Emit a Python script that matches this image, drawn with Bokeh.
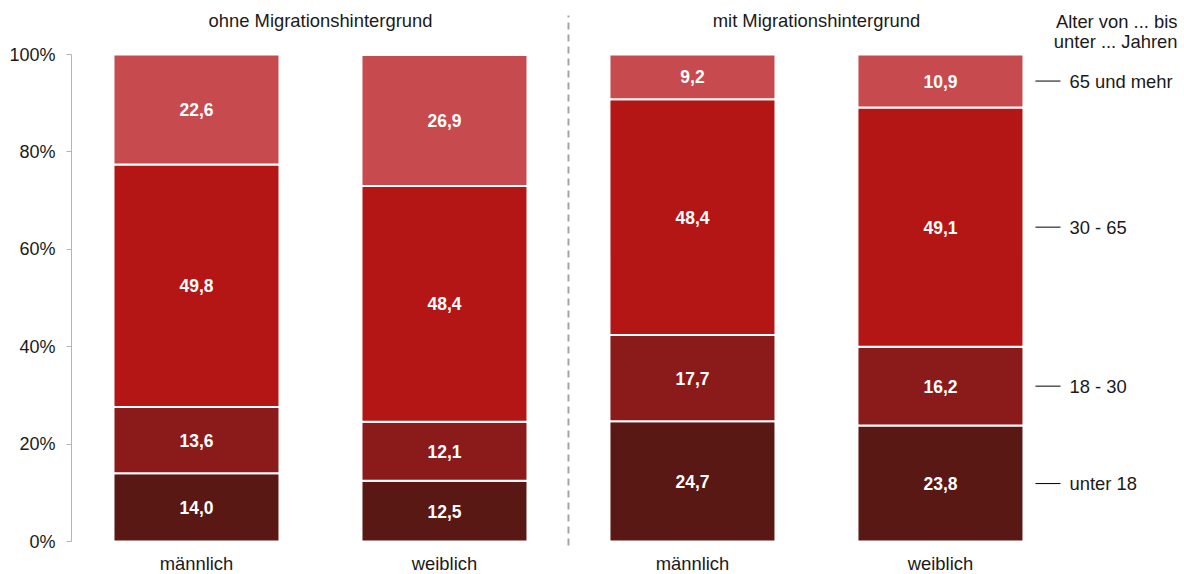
from bokeh.plotting import figure
from bokeh.models import ColumnDataSource, FixedTicker, Range1d
from bokeh.core.properties import value
from bokeh.embed import file_html
from bokeh.resources import INLINE

# ---------------- data ----------------
groups = ["ohne Migrationshintergrund", "mit Migrationshintergrund"]
sexes = ["männlich", "weiblich"]
age_groups = ["unter 18", "18 - 30", "30 - 65", "65 und mehr"]
ohne_maennlich = [14.0, 13.6, 49.8, 22.6]
ohne_weiblich = [12.5, 12.1, 48.4, 26.9]
mit_maennlich = [24.7, 17.7, 48.4, 9.2]
mit_weiblich = [23.8, 16.2, 49.1, 10.9]
y_ticks = [0, 20, 40, 60, 80, 100]
legend_title = ["Alter von ... bis", "unter ... Jahren"]

# ---------------- style ----------------
colors = ["#5a1814", "#8b1b1a", "#b41616", "#c64a4e"]
FONT = "Liberation Sans"
TXT = "18.4px"
W, H = 1184, 574

series = [ohne_maennlich, ohne_weiblich, mit_maennlich, mit_weiblich]
bar_labels = [s for _ in groups for s in sexes]

p = figure(width=W, height=H, output_backend="svg", toolbar_location=None,
           x_range=Range1d(-0.504, 3.984), y_range=Range1d(-6.776, 111.09),
           x_axis_location=None, y_axis_location="left",
           min_border_left=71, min_border_right=0, min_border_top=0, min_border_bottom=0)
p.outline_line_color = None
p.xgrid.visible = False
p.ygrid.visible = False
p.background_fill_color = "white"
p.border_fill_color = "white"

# bars
xs, bottoms, tops, fills, mids, texts = [], [], [], [], [], []
for i, vals in enumerate(series):
    cum = 0.0
    for j, v in enumerate(vals):
        xs.append(i)
        bottoms.append(cum)
        tops.append(cum + v)
        fills.append(colors[j])
        mids.append(cum + v / 2)
        texts.append(f"{v:.1f}".replace(".", ","))
        cum += v
src = ColumnDataSource(dict(x=xs, bottom=bottoms, top=tops, fill=fills, mid=mids, text=texts))
p.vbar(x="x", bottom="bottom", top="top", width=166 / 248, fill_color="fill",
       line_color="white", line_width=2, source=src)
p.text(x="x", y="mid", text="text", source=src, text_color="white",
       text_font=value(FONT), text_font_style="bold", text_font_size="17.5px",
       text_align="center", text_baseline="middle")

# separator
p.segment(x0=[1.5], y0=[-0.82], x1=[1.5], y1=[108.0], line_color="#a6a6a6",
          line_width=2, line_dash="7 5")

# group headers
hx = [0.5, 2.5]
p.text(x=hx, y=[106.9] * 2, text=groups, text_font=value(FONT), text_font_size=TXT,
       text_color="#1a1a1a", text_align="center", text_baseline="middle")

# category labels
p.text(x=list(range(len(bar_labels))), y=[-4.52] * len(bar_labels), text=bar_labels,
       text_font=value(FONT), text_font_size=TXT, text_color="#1a1a1a",
       text_align="center", text_baseline="middle")

# legend (aligned with segments of last bar)
last = series[-1]
leg_y = []
cum = 0.0
for v in last:
    leg_y.append(cum + v / 2)
    cum += v
p.segment(x0=[3.383] * 4, y0=leg_y, x1=[3.484] * 4, y1=leg_y, line_color="black", line_width=1)
p.text(x=[3.52] * 4, y=leg_y, text=age_groups, text_font=value(FONT), text_font_size=TXT,
       text_color="#1a1a1a", text_align="left", text_baseline="middle")
p.text(x=[3.956] * 2, y=[106.78, 102.67], text=legend_title, text_font=value(FONT),
       text_font_size=TXT, text_color="#1a1a1a", text_align="right", text_baseline="middle")

# y axis
ax = p.yaxis[0]
ax.ticker = FixedTicker(ticks=y_ticks)
ax.bounds = (0, 100)
ax.major_label_overrides = {t: f"{t}%" for t in y_ticks}
ax.axis_line_color = "#b4b4b4"
ax.axis_line_width = 1
ax.major_tick_line_color = "#b4b4b4"
ax.major_tick_out = 5
ax.major_tick_in = 0
ax.minor_tick_line_color = None
ax.major_label_standoff = 11
ax.major_label_text_font = FONT
ax.major_label_text_font_size = "18px"
ax.major_label_text_color = "#1a1a1a"

open("out.html", "w").write(file_html(p, INLINE))
